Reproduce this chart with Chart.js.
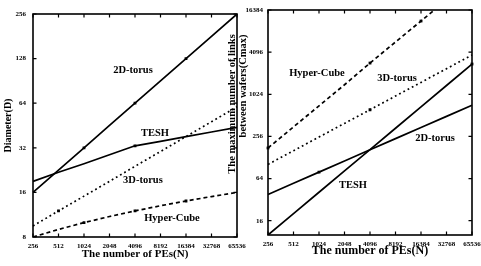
<!DOCTYPE html>
<html><head><meta charset="utf-8">
<script src="https://cdn.jsdelivr.net/npm/chart.js@4"></script>
<style>
html,body{margin:0;padding:0;background:#fff;overflow:hidden;width:481px;height:266px}
canvas{position:absolute;top:0}
#c1{left:0}
#c2{left:222px}
</style></head><body>
<canvas id="c1" width="262" height="266"></canvas>
<canvas id="c2" width="259" height="266"></canvas>
<script>
const peLabels = ['256','512','1024','2048','4096','8192','16384','32768','65536'];
const diamTicks = [8,16,32,64,128,256];
const linkTicks = [16,64,256,1024,4096,16384];

// Diameter (left chart)
const diam2DTorus   = [16,22.6,32,45.3,64,90.5,128,181,256];
const diamTESH      = [19,21.9,25,28.7,33,35.4,38.1,40.9,44];
const diam3DTorus   = [9.5,12,15.1,19,24,30.2,38.1,48,60.5];
const diamHyperCube = [8,9,10,11,12,13,14,15,16];

// Maximum number of links between wafers (right chart)
const link2DTorus   = [10,20.2,40.8,82.3,166,335,677,1367,2770];
const linkTESH      = [38,54.8,79.1,114,165,238,343,495,715];
const link3DTorus   = [102,160,251,393,616,966,1515,2375,3720];
const linkHyperCube = [175,350,700,1400,2860,5720,11400,22800,45600];

const SERIF = '"Liberation Serif","DejaVu Serif",serif';

const decor = {
  id: 'decor',
  afterDraw(chart, args, opts) {
    const {ctx, chartArea: a, scales: {x, y}} = chart;
    ctx.save();
    ctx.strokeStyle = '#000';
    ctx.lineWidth = 1.6;
    ctx.strokeRect(a.left, a.top, a.right - a.left, a.bottom - a.top);
    ctx.lineWidth = 1.2;
    ctx.beginPath();
    x.ticks.forEach((t, i) => {
      const px = x.getPixelForTick(i);
      ctx.moveTo(px, a.bottom); ctx.lineTo(px, a.bottom - 3.5);
      ctx.moveTo(px, a.top); ctx.lineTo(px, a.top + 3.5);
    });
    y.ticks.forEach(t => {
      const py = y.getPixelForValue(t.value);
      ctx.moveTo(a.left, py); ctx.lineTo(a.left + 3.5, py);
      ctx.moveTo(a.right, py); ctx.lineTo(a.right - 3.5, py);
    });
    ctx.stroke();
    ctx.fillStyle = '#000';
    ctx.textAlign = 'center';
    ctx.textBaseline = 'middle';
    ctx.font = opts.noteFont;
    (opts.notes || []).forEach(n => {
      ctx.fillText(n.text, x.getPixelForValue(n.idx), y.getPixelForValue(n.val));
    });
    (opts.yTitles || []).forEach(t => {
      ctx.save();
      ctx.font = t.font;
      ctx.translate(t.x, t.y);
      ctx.rotate(-Math.PI / 2);
      ctx.fillText(t.text, 0, 0);
      ctx.restore();
    });
    ctx.restore();
  }
};

function ds(data, kind, radii) {
  const o = {
    data, borderColor: '#000', borderWidth: 1.7, tension: 0, fill: false,
    pointStyle: 'rect', pointRadius: radii, pointBackgroundColor: '#000',
    pointBorderWidth: 0, pointHoverRadius: 0
  };
  if (kind === 'dash') o.borderDash = [4, 3];
  if (kind === 'dot') o.borderDash = [1.8, 3];
  return o;
}

function makeChart(id, cfg) {
  return new Chart(document.getElementById(id), {
    type: 'line',
    data: {labels: peLabels, datasets: cfg.datasets},
    plugins: [decor],
    options: {
      responsive: false, animation: false, devicePixelRatio: 1,
      layout: {padding: cfg.padding},
      plugins: {
        legend: {display: false}, tooltip: {enabled: false},
        decor: {notes: cfg.notes, noteFont: cfg.noteFont, yTitles: cfg.yTitles}
      },
      scales: {
        x: {
          type: 'category', offset: false,
          grid: {display: false, drawTicks: false}, border: {display: false},
          ticks: {color: '#000', font: {family: SERIF, size: 7, weight: 'bold'},
                  padding: 5, maxRotation: 0, autoSkip: false},
          title: {display: true, text: 'The number of PEs(N)', color: '#000',
                  font: {family: SERIF, size: cfg.xTitleSize, weight: 'bold'},
                  padding: {top: 0, bottom: cfg.xTitlePad}},
          afterFit: s => { s.height = cfg.xHeight; s.paddingLeft = 0; s.paddingRight = 0; }
        },
        y: {
          type: 'logarithmic', min: cfg.yMin, max: cfg.yMax,
          grid: {display: false, drawTicks: false}, border: {display: false},
          afterBuildTicks: s => { s.ticks = cfg.yTicks.map(v => ({value: v})); },
          ticks: {color: '#000', font: {family: SERIF, size: 7, weight: 'bold'},
                  padding: cfg.yTickPad, callback: v => String(v)},
          title: cfg.yTitle,
          afterFit: s => { s.width = cfg.yWidth; s.paddingTop = 0; s.paddingBottom = 0; }
        }
      }
    }
  });
}

makeChart('c1', {
  datasets: [
    ds(diam2DTorus, 'solid', [0,0,2,0,2,0,2,0,0]),
    ds(diamTESH, 'solid', [0,0,0,0,2,0,0,0,0]),
    ds(diam3DTorus, 'dot', [0,2,0,0,0,0,0,0,0]),
    ds(diamHyperCube, 'dash', [0,0,2,0,2,0,2,0,0])
  ],
  padding: {left: 0, right: 25, top: 14, bottom: 0},
  xHeight: 29, yWidth: 33, yTickPad: 7,
  xTitleSize: 11, xTitlePad: 5,
  yMin: 8, yMax: 256, yTicks: diamTicks,
  yTitle: {display: true, text: 'Diameter(D)', color: '#000',
           font: {family: SERIF, size: 10, weight: 'bold'}, padding: {top: 2, bottom: 0}},
  noteFont: 'bold 10.5px ' + SERIF,
  notes: [
    {text: '2D-torus', idx: 3.92, val: 107},
    {text: 'TESH', idx: 4.78, val: 40.3},
    {text: '3D-torus', idx: 4.31, val: 19.4},
    {text: 'Hyper-Cube', idx: 5.45, val: 10.7}
  ],
  yTitles: []
});

makeChart('c2', {
  datasets: [
    ds(link2DTorus, 'solid', [0,0,0,0,0,0,0,0,2]),
    ds(linkTESH, 'solid', [0,0,2,0,0,0,0,0,0]),
    ds(link3DTorus, 'dot', [0,0,0,0,2,0,0,0,0]),
    ds(linkHyperCube, 'dash', [2,0,0,0,2,0,2,0,0])
  ],
  padding: {left: 0, right: 9, top: 10, bottom: 0},
  xHeight: 31, yWidth: 46, yTickPad: 5,
  xTitleSize: 12, xTitlePad: 8,
  yMin: 10, yMax: 16384, yTicks: linkTicks,
  yTitle: {display: false},
  noteFont: 'bold 10.5px ' + SERIF,
  notes: [
    {text: 'Hyper-Cube', idx: 1.92, val: 2048},
    {text: '3D-torus', idx: 5.06, val: 1734},
    {text: '2D-torus', idx: 6.55, val: 239},
    {text: 'TESH', idx: 3.33, val: 51.5}
  ],
  yTitles: [
    {text: 'The maximum number of links', x: 10, y: 104, font: 'bold 10.5px ' + SERIF},
    {text: 'between wafers(Cmax)', x: 21, y: 86, font: 'bold 10.5px ' + SERIF}
  ]
});
</script>
</body></html>
